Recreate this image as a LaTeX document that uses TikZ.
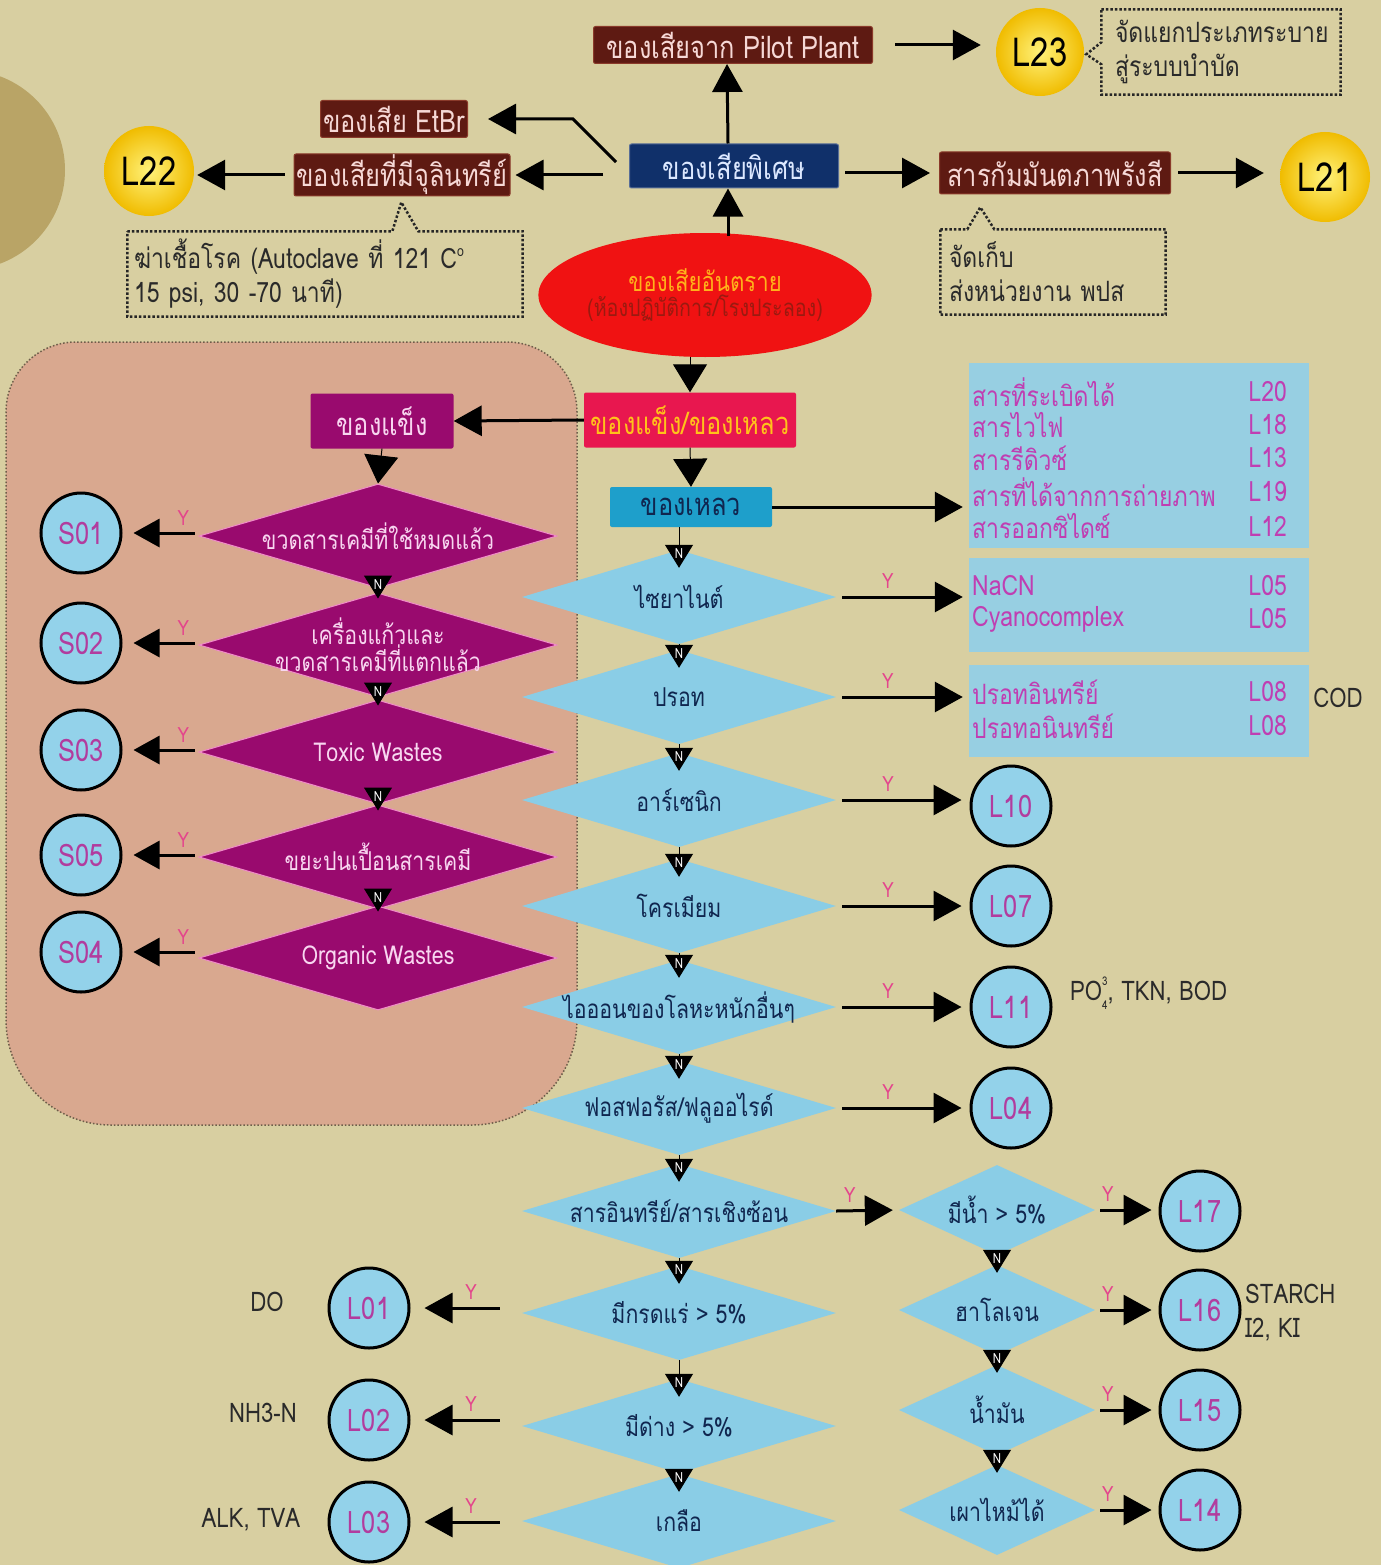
\documentclass[tikz,border=0pt]{standalone}
\usepackage{fontspec}
\setmainfont[Script=Thai,FakeStretch=0.82]{Loma}
\usetikzlibrary{shapes.geometric,arrows.meta,calc}
\definecolor{cbg}{HTML}{D8CFA1}
\definecolor{cdarkcirc}{HTML}{B9A466}
\definecolor{cpinkreg}{HTML}{D9A88F}
\definecolor{cregedge}{HTML}{6E5E4A}
\definecolor{cbrown}{HTML}{5E1A12}
\definecolor{cbrownedge}{HTML}{8A3A2A}
\definecolor{clightpink}{HTML}{F6D8D6}
\definecolor{cnavy}{HTML}{10306A}
\definecolor{cnavytext}{HTML}{DCE8FF}
\definecolor{cred}{HTML}{F01212}
\definecolor{corange}{HTML}{FFB21A}
\definecolor{cdred}{HTML}{9A1A10}
\definecolor{ccrimson}{HTML}{E8174F}
\definecolor{cyel}{HTML}{FFC21A}
\definecolor{cpurple}{HTML}{990A6E}
\definecolor{cpurpedge}{HTML}{F08CC8}
\definecolor{cptext}{HTML}{F8D6F0}
\definecolor{cliquid}{HTML}{1E9FCB}
\definecolor{cdarktext}{HTML}{10264F}
\definecolor{cblue}{HTML}{8ACDE6}
\definecolor{cbbox}{HTML}{97CFE2}
\definecolor{ccirc}{HTML}{93D2EA}
\definecolor{ccirctext}{HTML}{B23C9E}
\definecolor{citext}{HTML}{C03EB2}
\definecolor{cycol}{HTML}{E4458C}
\definecolor{cblack}{HTML}{2A2A2A}
\definecolor{cyin}{HTML}{FFF27A}
\definecolor{cyout}{HTML}{F0BC00}
\newcommand\fsbox{\fontsize{31}{33}\selectfont}
\newcommand\fsnote{\fontsize{28}{34}\selectfont}
\newcommand\fsdia{\fontsize{26}{27}\selectfont}
\newcommand\fsitem{\fontsize{28}{29}\selectfont}
\tikzset{
  arr/.style={line width=3pt,-{Triangle[length=28pt,width=30pt]}},
  sarr/.style={line width=3pt,-{Triangle[length=26pt,width=28pt]}},
  tri/.style={line width=1pt,-{Triangle[length=28pt,width=34pt]}},
  ntip/.style={line width=1pt,-{Triangle[length=23pt,width=28pt]}},
  nlab/.style={text=white,font=\fontsize{14}{14}\selectfont,inner sep=0pt},
  ylab/.style={text=cycol,font=\fontsize{21}{21}\selectfont,inner sep=0pt},
  brownrect/.style={rectangle,fill=cbrown,draw=cbrownedge,line width=1pt,rounded corners=2pt,text=clightpink,font=\fsbox,inner sep=0pt},
  yball/.style={circle,inner sep=0pt,minimum size=88,inner color=cyin,outer color=cyout,text=black,font=\fontsize{40}{40}\selectfont},
  notebox/.style={rectangle,inner sep=0pt,text=cblack,font=\fsnote,align=left},
  dotline/.style={draw=black!85,line width=2.5pt,dash pattern=on 2.5pt off 2pt},
  pdia/.style={diamond,fill=cpurple,draw=cpurpedge,line width=1pt,minimum width=358,minimum height=104,inner sep=0pt},
  ptext/.style={text=cptext,font=\fsdia,align=center,inner sep=0pt},
  bdia/.style={diamond,fill=cblue,minimum width=314,minimum height=94,inner sep=0pt},
  sdia/.style={diamond,fill=cblue,minimum width=196,minimum height=90,inner sep=0pt},
  btext/.style={text=cdarktext,font=\fsdia,inner sep=0pt},
  circ/.style={circle,draw=black,line width=3pt,fill=ccirc,minimum size=80,inner sep=0pt,text=ccirctext,font=\fontsize{31}{31}\selectfont},
  bluebox/.style={rectangle,fill=cbbox,inner sep=0pt},
  itext/.style={text=citext,font=\fsitem,inner sep=0pt},
  dtext/.style={text=cblack,font=\fontsize{27}{30}\selectfont,inner sep=0pt,align=left},
}
\begin{document}
\begin{tikzpicture}[x=1pt,y=-1pt]
\useasboundingbox (0,0) rectangle (1381,1565);
\fill[cbg] (0,0) rectangle (1381,1565);
\begin{scope}
\clip (0,0) rectangle (1381,1565);
\fill[cdarkcirc] (-35,170) circle[radius=100pt];
\end{scope}
% pink region
\draw[fill=cpinkreg,draw=cregedge,line width=1.5pt,dash pattern=on 1.5pt off 2pt]
  [rounded corners=70pt] (6,700) -- (6,342) -- (577,342) [rounded corners=105pt] -- (577,1125) -- (6,1125) -- cycle;

% ---------- top part ----------
\node[brownrect,minimum width=279,minimum height=37] (pilot) at (733,45) {ของเสียจาก Pilot Plant};
\node[brownrect,minimum width=147,minimum height=37] (etbr) at (394,119) {ของเสีย EtBr};
\node[brownrect,minimum width=216,minimum height=42] (micro) at (402,175) {ของเสียที่มีจุลินทรีย์};
\node[rectangle,fill=cnavy,draw=cnavy!70!white,line width=1pt,rounded corners=2pt,text=cnavytext,font=\fsbox,inner sep=0pt,minimum width=209,minimum height=44] (special) at (734,166) {ของเสียพิเศษ};
\node[brownrect,minimum width=231,minimum height=42] (radio) at (1055,173) {สารกัมมันตภาพรังสี};
\node[yball] (L23) at (1040,52) {L23};
\node[yball,minimum size=90] (L22) at (149,171) {L22};
\node[yball,minimum size=90] (L21) at (1325,177) {L21};
\node[ellipse,fill=cred,minimum width=286,minimum height=124,inner sep=0pt,align=center] (haz) at (705,295)
  {{\color{corange}\fontsize{27}{29}\selectfont ของเสียอันตราย}\\[2pt]{\color{cdred}\fontsize{24}{26}\selectfont (ห้องปฏิบัติการ/โรงประลอง)}};

% notes
\node[notebox,minimum width=239,minimum height=85,text width=212] (n1) at (1221,52) {จัดแยกประเภทระบาย\\สู่ระบบบำบัด};
\draw[dotline] (n1.north west) -- (n1.north east) -- (n1.south east) -- (n1.south west) -- ($(n1.north west)+(0,55)$) -- ($(n1.north west)+(-15,45)$) -- ($(n1.north west)+(0,33)$) -- cycle;
\node[notebox,minimum width=395,minimum height=85,text width=382] (n2) at (325,274)
  {ฆ่าเชื้อโรค (Autoclave ที่ 121 C\raisebox{0.85ex}{\fontsize{15}{15}\selectfont o}\\15 psi, 30 -70 นาที)};
\draw[dotline] (n2.north west) -- ($(n2.north west)+(265,0)$) -- ($(n2.north west)+(274,-29)$) -- ($(n2.north west)+(291,0)$) -- (n2.north east) -- (n2.south east) -- (n2.south west) -- cycle;
\node[notebox,minimum width=225,minimum height=85,text width=208] (n3) at (1053,272) {จัดเก็บ\\ส่งหน่วยงาน พปส};
\draw[dotline] (n3.north west) -- ($(n3.north west)+(27,0)$) -- ($(n3.north west)+(40,-22)$) -- ($(n3.north west)+(54,0)$) -- (n3.north east) -- (n3.south east) -- (n3.south west) -- cycle;

% top arrows
\draw[arr] ([xshift=-6pt]special.north) -- ([xshift=-6pt]pilot.south);
\draw[arr] ($(haz.north)+(23,3)$) -- ([xshift=-6pt]special.south);
\draw[arr,shorten <=22pt,shorten >=15pt] (pilot.east) -- (pilot.east -| L23.west);
\draw[arr,shorten <=6pt,shorten >=9pt] (radio.west -| special.east) -- (radio.west);
\draw[arr,shorten <=7pt,shorten >=16pt] (radio.east) -- (radio.east -| L21.west);
\draw[arr,shorten <=9pt,shorten >=3pt] (micro.west) -- (micro.west -| L22.east);
\draw[arr,shorten <=26pt,shorten >=5pt] (micro.east -| special.west) -- (micro.east);
\draw[arr,shorten >=20pt] ([xshift=-13pt,yshift=4pt]special.west) -- ++(-43,-43) -- (etbr.east);

% ---------- middle ----------
\node[rectangle,fill=ccrimson,rounded corners=2pt,text=cyel,font=\fontsize{31}{33}\selectfont,inner sep=0pt,minimum width=212,minimum height=55] (solidliq) at (690,420) {ของแข็ง/ของเหลว};
\node[rectangle,fill=cpurple,rounded corners=2pt,text=cptext,font=\fsbox,inner sep=0pt,minimum width=143,minimum height=55] (solid) at (382,421) {ของแข็ง};
\node[rectangle,fill=cliquid,rounded corners=2pt,text=cdarktext,font=\fsbox,inner sep=0pt,minimum width=162,minimum height=40] (liquid) at (691,507) {ของเหลว};
\draw[tri] (haz.south -| solidliq.north) -- (solidliq.north);
\draw[tri] (solidliq.south) -- (liquid.north);
\draw[arr] (solidliq.west) -- (solid.east);

% purple diamonds
\node[pdia,label={[ptext]center:{ขวดสารเคมีที่ใช้หมดแล้ว}}] (p1) at (378,536) {};
\node[pdia,label={[ptext]center:{เครื่องแก้วและ\\ขวดสารเคมีที่แตกแล้ว}}] (p2) at (378,645) {};
\node[pdia,label={[ptext]center:{Toxic Wastes}}] (p3) at (378,752) {};
\node[pdia,label={[ptext]center:{ขยะปนเปื้อนสารเคมี}}] (p4) at (378,857) {};
\node[pdia,label={[ptext]center:{Organic Wastes}}] (p5) at (378,958) {};
\draw[tri] (solid.south) -- (p1.north);
\draw[ntip] (p1.south) -- node[nlab,pos=1,yshift=14pt]{N} ([yshift=-6pt]p2.north);
\draw[ntip] (p2.south) -- node[nlab,pos=1,yshift=14pt]{N} ([yshift=-6pt]p3.north);
\draw[ntip] (p3.south) -- node[nlab,pos=1,yshift=14pt]{N} ([yshift=-6pt]p4.north);
\draw[ntip] (p4.south) -- node[nlab,pos=1,yshift=14pt]{N} ([yshift=-6pt]p5.north);

\node[circ] (S01) at (81,533) {S01};
\node[circ] (S02) at (81,643) {S02};
\node[circ] (S03) at (81,750) {S03};
\node[circ] (S05) at (81,855) {S05};
\node[circ] (S04) at (81,952) {S04};
\foreach \p/\s in {p1/S01,p2/S02,p3/S03,p4/S05,p5/S04}{
  \draw[sarr,shorten <=4pt,shorten >=11pt] (\s.east -| \p.west) -- node[ylab,pos=0.2,above=6pt]{Y} (\s.east);
}

% blue boxes
\node[bluebox,minimum width=340,minimum height=185] (b1) at (1139,455) {};
\node[bluebox,minimum width=340,minimum height=94] (b2) at (1139,605) {};
\node[bluebox,minimum width=340,minimum height=92] (b3) at (1139,711) {};
\node[itext,anchor=west] (t1) at (972,392) {สารที่ระเบิดได้};
\node[itext,anchor=west] (t2) at (972,425) {สารไวไฟ};
\node[itext,anchor=west] (t3) at (972,458) {สารรีดิวซ์};
\node[itext,anchor=west] (t4) at (972,492) {สารที่ได้จากการถ่ายภาพ};
\node[itext,anchor=west] (t5) at (972,526) {สารออกซิไดซ์};
\node[itext,anchor=east] (c1) at (1287,392) {L20};
\node[itext,anchor=east] (c2) at (1287,425) {L18};
\node[itext,anchor=east] (c3) at (1287,458) {L13};
\node[itext,anchor=east] (c4) at (1287,492) {L19};
\node[itext,anchor=east] (c5) at (1287,526) {L12};
\node[itext,anchor=west] (t6) at (972,586) {NaCN};
\node[itext,anchor=west] (t7) at (972,619) {Cyanocomplex};
\node[itext,anchor=east] (c6) at (1287,586) {L05};
\node[itext,anchor=east] (c7) at (1287,619) {L05};
\node[itext,anchor=west] (t8) at (972,692) {ปรอทอินทรีย์};
\node[itext,anchor=west] (t9) at (972,726) {ปรอทอนินทรีย์};
\node[itext,anchor=east] (c8) at (1287,692) {L08};
\node[itext,anchor=east] (c9) at (1287,726) {L08};
\node[dtext] (cod) at (1338,698) {COD};
\draw[arr,shorten >=6pt] (liquid.east) -- (liquid.east -| b1.west);

% blue diamonds
\node[bdia,label={[btext]center:{ไซยาไนต์}}] (bd1) at (679,597) {};
\node[bdia,label={[btext]center:{ปรอท}}] (bd2) at (679,697) {};
\node[bdia,label={[btext]center:{อาร์เซนิก}}] (bd3) at (679,800) {};
\node[bdia,label={[btext]center:{โครเมียม}}] (bd4) at (679,906) {};
\node[bdia,label={[btext]center:{ไอออนของโลหะหนักอื่นๆ}}] (bd5) at (679,1007) {};
\node[bdia,label={[btext]center:{ฟอสฟอรัส/ฟลูออไรด์}}] (bd6) at (679,1108) {};
\node[bdia,label={[btext]center:{สารอินทรีย์/สารเชิงซ้อน}}] (bd7) at (679,1211) {};
\node[bdia,label={[btext]center:{มีกรดแร่ > 5\%}}] (bd8) at (679,1313) {};
\node[bdia,label={[btext]center:{มีด่าง > 5\%}}] (bd9) at (679,1426) {};
\node[bdia,label={[btext]center:{เกลือ}}] (bd10) at (679,1521) {};
\draw[ntip] (bd1.north |- liquid.south) -- node[nlab,pos=1,yshift=14pt]{N} ([yshift=-18pt]bd1.north);
\foreach \a/\b in {bd1/bd2,bd2/bd3,bd3/bd4,bd4/bd5,bd5/bd6,bd6/bd7,bd7/bd8,bd8/bd9,bd9/bd10}{
  \draw[ntip] (\a.south) -- node[nlab,pos=1,yshift=14pt]{N} ([yshift=-18pt]\b.north);
}
\draw[arr,shorten <=6pt,shorten >=6pt] (bd1.east) -- node[ylab,pos=0.39,above=7pt]{Y} (bd1.east -| b2.west);
\draw[arr,shorten <=6pt,shorten >=6pt] (bd2.east) -- node[ylab,pos=0.39,above=7pt]{Y} (bd2.east -| b3.west);

% right circles
\node[circ] (L10) at (1011,806) {L10};
\node[circ] (L07) at (1011,906) {L07};
\node[circ] (L11) at (1011,1007) {L11};
\node[circ] (L04) at (1011,1108) {L04};
\foreach \d/\c in {bd3/L10,bd4/L07,bd5/L11,bd6/L04}{
  \draw[arr,shorten <=6pt,shorten >=8pt] (\d.east) -- node[ylab,pos=0.39,above=7pt]{Y} (\d.east -| \c.west);
}
\node[dtext,anchor=west] (po) at (1070,993) {PO\rlap{\raisebox{1.1ex}{\fontsize{12}{12}\selectfont 3}}\raisebox{-0.6ex}{\fontsize{12}{12}\selectfont 4}, TKN, BOD};

% right small diamonds
\node[sdia,label={[btext]center:{มีน้ำ > 5\%}}] (sd1) at (997,1210) {};
\node[sdia,label={[btext]center:{ฮาโลเจน}}] (sd2) at (997,1310) {};
\node[sdia,label={[btext]center:{น้ำมัน}}] (sd3) at (997,1410) {};
\node[sdia,label={[btext]center:{เผาไหม้ได้}}] (sd4) at (997,1510) {};
\draw[arr,shorten <=0pt,shorten >=6pt] (bd7.east) -- node[ylab,pos=0.22,above=7pt]{Y} (sd1.west);
\foreach \a/\b in {sd1/sd2,sd2/sd3,sd3/sd4}{
  \draw[ntip] (\a.south) -- node[nlab,pos=1,yshift=14pt]{N} ([yshift=-8pt]\b.north);
}
\node[circ] (L17) at (1200,1211) {L17};
\node[circ] (L16) at (1200,1310) {L16};
\node[circ] (L15) at (1200,1410) {L15};
\node[circ] (L14) at (1200,1510) {L14};
\foreach \d/\c in {sd1/L17,sd2/L16,sd3/L15,sd4/L14}{
  \draw[arr,shorten <=5pt,shorten >=7pt] (\d.east) -- node[ylab,pos=0.2,above=7pt]{Y} (\d.east -| \c.west);
}
\node[dtext,anchor=west] (starch) at (1245,1294) {STARCH};
\node[dtext,anchor=west] (i2ki) at (1245,1330) {I2, KI};

% left bottom circles
\node[circ] (L01) at (369,1308) {L01};
\node[circ] (L02) at (369,1420) {L02};
\node[circ] (L03) at (369,1522) {L03};
\foreach \d/\c in {bd8/L01,bd9/L02,bd10/L03}{
  \draw[arr,shorten <=22pt,shorten >=14pt] (\c.east -| \d.west) -- node[ylab,pos=0.455,above=7pt]{Y} (\c.east);
}
\node[dtext] (do) at (267,1302) {DO};
\node[dtext] (nh3) at (263,1413) {NH3-N};
\node[dtext] (alk) at (251,1520) {ALK, TVA};
\end{tikzpicture}
\end{document}
